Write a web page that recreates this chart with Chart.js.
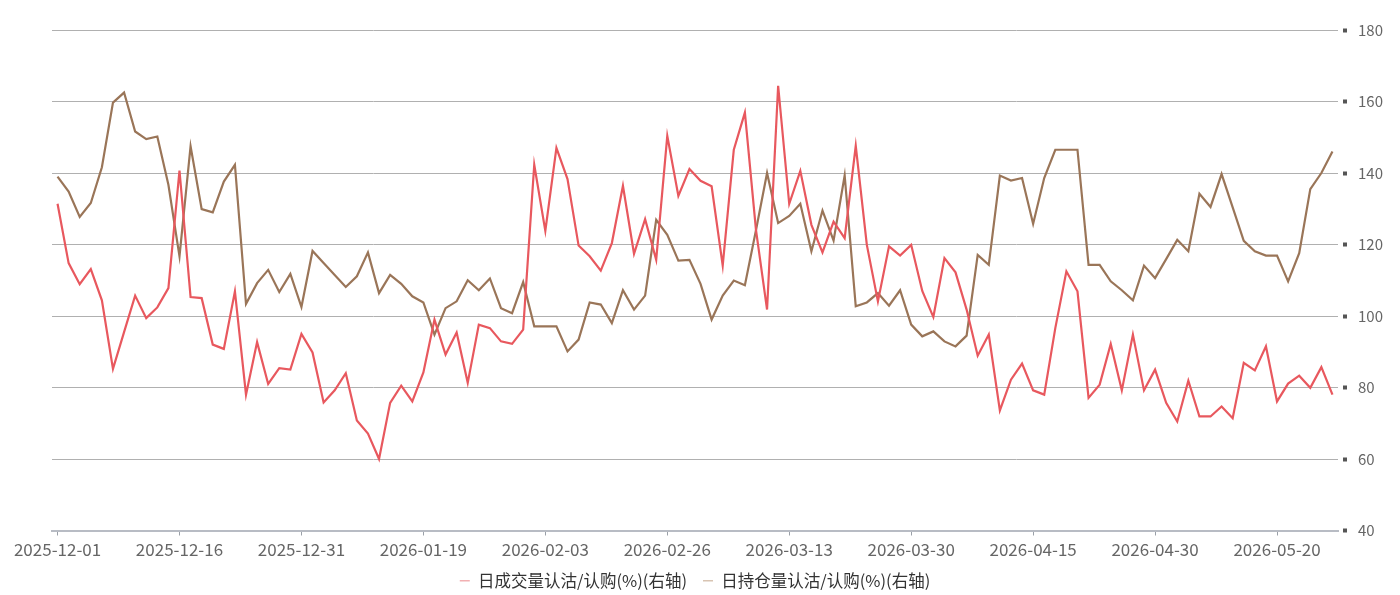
<!DOCTYPE html>
<html>
<head>
<meta charset="utf-8">
<script src="https://cdn.jsdelivr.net/npm/chart.js@4"></script>
<style>
  body { margin: 0; background: #fff; }
  #box { width: 1400px; height: 595px; position: relative; }
</style>
</head>
<body>
<div id="box"><canvas id="grafico"></canvas></div>
<script>
// datas (dias de negociação)
const datas = [
  "2025-12-01","2025-12-02","2025-12-03","2025-12-04","2025-12-05","2025-12-08","2025-12-09","2025-12-10","2025-12-11","2025-12-12",
  "2025-12-15","2025-12-16","2025-12-17","2025-12-18","2025-12-19","2025-12-22","2025-12-23","2025-12-24","2025-12-25","2025-12-26",
  "2025-12-29","2025-12-30","2025-12-31",
  "2026-01-05","2026-01-06","2026-01-07","2026-01-08","2026-01-09","2026-01-12","2026-01-13","2026-01-14","2026-01-15","2026-01-16",
  "2026-01-19","2026-01-20","2026-01-21","2026-01-22","2026-01-23","2026-01-26","2026-01-27","2026-01-28","2026-01-29","2026-01-30",
  "2026-02-02","2026-02-03","2026-02-04","2026-02-05","2026-02-06","2026-02-09","2026-02-10","2026-02-11","2026-02-12","2026-02-13",
  "2026-02-24","2026-02-25","2026-02-26","2026-02-27",
  "2026-03-02","2026-03-03","2026-03-04","2026-03-05","2026-03-06","2026-03-09","2026-03-10","2026-03-11","2026-03-12","2026-03-13",
  "2026-03-16","2026-03-17","2026-03-18","2026-03-19","2026-03-20","2026-03-23","2026-03-24","2026-03-25","2026-03-26","2026-03-27",
  "2026-03-30","2026-03-31",
  "2026-04-01","2026-04-02","2026-04-03","2026-04-07","2026-04-08","2026-04-09","2026-04-10","2026-04-13","2026-04-14","2026-04-15",
  "2026-04-16","2026-04-17","2026-04-20","2026-04-21","2026-04-22","2026-04-23","2026-04-24","2026-04-27","2026-04-28","2026-04-29",
  "2026-04-30",
  "2026-05-06","2026-05-07","2026-05-08","2026-05-11","2026-05-12","2026-05-13","2026-05-14","2026-05-15","2026-05-18","2026-05-19",
  "2026-05-20","2026-05-21","2026-05-22","2026-05-25","2026-05-26","2026-05-27"
];

// 日成交量认沽/认购(%)
const volumeRatio = [
  131.4,114.8,108.9,113.1,104.4,85.2,95.5,105.7,99.4,102.4,
  107.8,140.7,105.3,105.0,92.0,90.8,106.9,78.0,92.7,81.0,
  85.4,85.0,95.0,89.8,75.8,79.2,84.0,70.8,67.1,60.0,
  75.7,80.5,76.1,84.2,99.0,89.2,95.4,81.3,97.6,96.6,
  92.9,92.2,96.2,142.3,123.8,147.0,138.3,119.7,116.7,112.7,
  120.4,136.4,117.4,127.1,115.7,150.4,133.6,141.1,137.8,136.3,
  114.1,146.5,156.9,124.1,101.8,164.4,131.4,140.6,125.5,117.8,
  126.4,121.8,147.6,119.9,104.1,119.5,116.9,119.9,107.0,99.7,
  116.2,112.2,101.8,88.9,94.8,73.6,82.2,86.7,79.2,78.0,
  96.6,112.5,106.9,77.1,80.8,92.2,79.2,94.8,79.2,85.0,
  75.7,70.5,81.9,71.9,71.9,74.7,71.4,86.9,84.8,91.5,
  76.1,81.1,83.3,79.9,85.7,78.0
];

// 日持仓量认沽/认购(%)
const posicaoRatio = [
  139.0,134.8,127.7,131.6,141.6,159.7,162.5,151.6,149.5,150.2,
  136.7,116.7,147.5,129.9,129.0,137.6,142.3,103.4,109.2,112.9,
  106.7,111.8,102.5,118.2,114.8,111.5,108.1,111.1,117.8,106.4,
  111.5,109.0,105.5,103.8,94.8,102.2,104.1,110.0,107.2,110.5,
  102.2,100.8,109.5,97.1,97.1,97.1,90.1,93.4,103.8,103.2,
  98.0,107.2,101.8,105.7,126.9,122.7,115.5,115.7,109.0,99.0,
  105.7,109.9,108.6,124.0,140.0,126.0,128.0,131.4,118.1,129.5,
  121.1,139.3,102.7,103.8,106.4,102.9,107.2,97.6,94.3,95.7,
  92.9,91.5,94.5,117.1,114.3,139.3,137.9,138.6,125.8,138.6,
  146.5,146.5,146.5,114.3,114.3,109.7,107.2,104.4,114.1,110.6,
  115.9,121.3,118.1,134.2,130.5,139.7,130.4,121.0,118.1,116.9,
  116.9,109.7,117.6,135.5,140.0,146.0
];

const nomes = ["日成交量认沽/认购(%)(右轴)", "日持仓量认沽/认购(%)(右轴)"];
const cores = ["#e8585e", "#9a7558"];
const coresLegenda = ["#f2b0b2", "#d8c4b2"];

const fonte = '"Noto Sans CJK SC", "Noto Sans", sans-serif';

var ctx = document.getElementById("grafico").getContext("2d");
var myChart = new Chart(ctx, {
    type: "line",
    data: {
        labels: datas,
        datasets: [
            { label: nomes[0], data: volumeRatio, borderColor: cores[0], borderWidth: 2.2, pointRadius: 0, tension: 0 },
            { label: nomes[1], data: posicaoRatio, borderColor: cores[1], borderWidth: 2.2, pointRadius: 0, tension: 0 }
        ]
    },
    options: {
        responsive: true,
        maintainAspectRatio: false,
        animation: false,
        // fundo negativo: empurra a legenda um pouco para baixo
        layout: { padding: { left: 52, top: 30, right: 0, bottom: -4 } },
        plugins: {
            tooltip: { enabled: false },
            legend: {
                position: "bottom",
                fullSize: false,
                labels: {
                    font: { family: fonte, size: 16.5 },
                    color: "#333",
                    usePointStyle: true,
                    boxWidth: 10,
                    pointStyleWidth: 10,
                    padding: 16,
                    generateLabels: function (chart) {
                        return nomes.map((n, i) => ({
                            text: n,
                            fillStyle: coresLegenda[i],
                            strokeStyle: coresLegenda[i],
                            lineWidth: 1.5,
                            pointStyle: "line",
                            fontColor: "#333",
                            datasetIndex: i
                        }));
                    }
                }
            }
        },
        scales: {
            x: {
                offset: true,
                border: { display: true, color: "#b8bcc4", width: 2 },
                grid: {
                    drawOnChartArea: false,
                    drawTicks: true,
                    tickLength: 5,
                    tickColor: (c) => (c.index % 11 === 0 ? "#9aa0a8" : "rgba(0,0,0,0)")
                },
                ticks: {
                    autoSkip: false,
                    maxRotation: 0,
                    padding: 4,
                    color: "#666",
                    font: { family: fonte, size: 17 },
                    callback: function (v, i) { return i % 11 === 0 ? datas[i] : ""; }
                },
                afterFit: function (s) { s.height = 26; }
            },
            y: {
                position: "right",
                min: 40,
                max: 180,
                border: { display: false },
                grid: {
                    color: "#b0b0b0",
                    lineWidth: 1,
                    borderDash: [2, 2],
                    drawTicks: true,
                    tickLength: 10,
                    tickWidth: 4,
                    tickColor: "#555",
                    tickBorderDash: [0, 5, 4, 30]
                },
                ticks: {
                    stepSize: 20,
                    padding: 10,
                    color: "#666",
                    font: { family: fonte, size: 15 }
                },
                afterFit: function (s) { s.width = 62; }
            }
        }
    }
});
</script>
</body>
</html>
